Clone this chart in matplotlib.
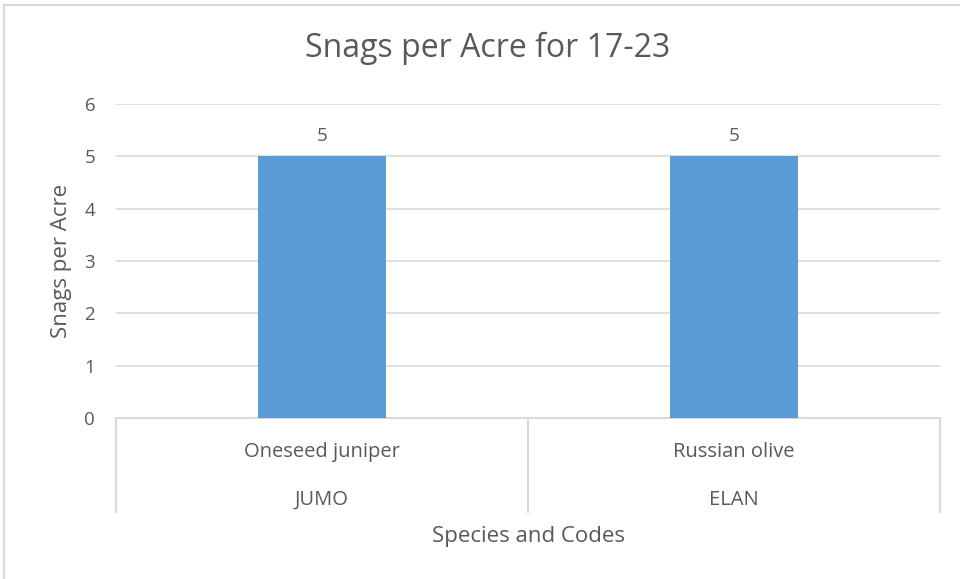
import matplotlib.pyplot as plt
from matplotlib.lines import Line2D
import matplotlib.transforms as mtransforms

plt.rcParams['font.family'] = ['Open Sans', 'DejaVu Sans']

species = ['Oneseed juniper', 'Russian olive']
codes = ['JUMO', 'ELAN']
snags = [5, 5]
yticks = [0, 1, 2, 3, 4, 5, 6]

txt = '#595959'
grid = '#D9D9D9'

fig = plt.figure(figsize=(9.6, 5.79), dpi=100)
ax = fig.add_axes([116/960, 1-418/579, (940-116)/960, (418-104)/579])

x = list(range(len(snags)))
bars = ax.bar(x, snags, width=0.31, color='#5B9BD5', zorder=3)
for xi, v in zip(x, snags):
    ax.text(xi, v + 0.22, str(v), ha='center', va='bottom', fontsize=13.5, color=txt)

ax.set_xlim(-0.5, len(snags) - 0.5)
ax.set_ylim(0, 6)
ax.set_yticks(yticks)
ax.set_yticklabels([str(t) for t in yticks], fontsize=13.5, color=txt)
ax.tick_params(axis='y', length=0, pad=15)
ax.set_xticks([])
ax.grid(axis='y', color=grid, linewidth=1.2, zorder=0)
for s in ['top', 'right', 'left']:
    ax.spines[s].set_visible(False)
ax.spines['bottom'].set_color(grid)
ax.spines['bottom'].set_linewidth(1.5)

# multi-level category axis
tr = mtransforms.blended_transform_factory(ax.transData, ax.transAxes)
for b in [i - 0.5 for i in range(len(snags) + 1)]:
    ax.plot([b, b], [0, -0.30], transform=tr, color=grid, lw=1.5, clip_on=False)
for xi, sp, cd in zip(x, species, codes):
    ax.text(xi, -0.108, sp, transform=tr, ha='center', va='center', fontsize=14.5, color=txt)
    ax.text(xi, -0.260, cd, transform=tr, ha='center', va='center', fontsize=14.5, color=txt)

ax.text(0.5, -0.377, 'Species and Codes', transform=ax.transAxes, ha='center', va='center',
        fontsize=16, color=txt)
fig.text(62/960, 1-261/579, 'Snags per Acre', rotation=90, ha='center', va='center',
         fontsize=16, color=txt)
fig.text(488/960, 1-48/579, 'Snags per Acre for 17-23', ha='center', va='center',
         fontsize=23, color=txt)

# outer chart border (left and top visible)
fig.add_artist(Line2D([4/960, 4/960], [0, 1-5/579], color=grid, lw=1.5))
fig.add_artist(Line2D([4/960, 1], [1-5/579, 1-5/579], color=grid, lw=1.5))

fig.savefig('out.png', dpi=100)
